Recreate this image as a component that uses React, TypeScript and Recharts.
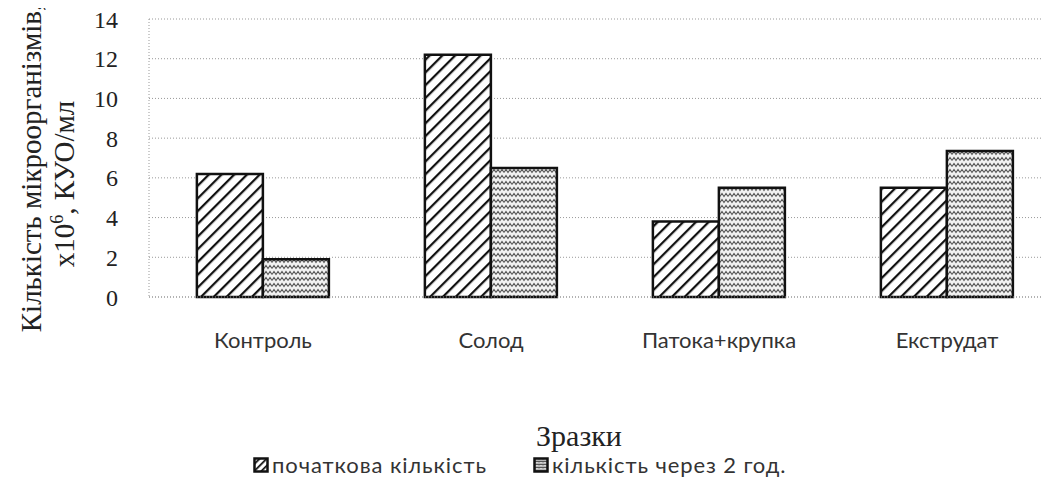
import { BarChart, Bar, XAxis, YAxis, CartesianGrid } from "recharts";

const categories = ["Контроль", "Солод", "Патока+крупка", "Екструдат"];
const initialCount = [6.2, 12.2, 3.8, 5.5];
const after2h = [1.9, 6.5, 5.5, 7.35];
const yTicks = [0, 2, 4, 6, 8, 10, 12, 14];
const seriesNames = ["початкова кількість", "кількість через 2 год."];

const data = categories.map((name, i) => ({
  name,
  initial: initialCount[i],
  after: after2h[i],
}));

const SERIF = "'Liberation Serif', 'DejaVu Serif', serif";
const SANS = "Lato, 'Open Sans', sans-serif";

function Patterns() {
  return (
    <defs>
      <pattern id="hatch" patternUnits="userSpaceOnUse" width={9} height={9} patternTransform="rotate(45)">
        <rect width={9} height={9} fill="#fff" />
        <line x1={0} y1={0} x2={0} y2={9} stroke="#111" strokeWidth={4.5} />
      </pattern>
      <pattern id="wave" patternUnits="userSpaceOnUse" width={8} height={6}>
        <rect width={8} height={6} fill="#f2f2f2" />
        <path d="M0 4.5 L2 1.5 L4 4.5 L6 1.5 L8 4.5" fill="none" stroke="#555" strokeWidth={1.1} />
      </pattern>
    </defs>
  );
}

function YTitle() {
  return (
    <g fontFamily={SERIF} fontSize={29} fill="#222">
      <text transform="translate(41,168) rotate(-90)" textAnchor="middle">
        Кількість мікроорганізмів,
      </text>
      <text transform="translate(74,184) rotate(-90)" textAnchor="middle">
        х10<tspan fontSize={18} dy={-11}>6</tspan>
        <tspan dy={11}>, КУО/мл</tspan>
      </text>
    </g>
  );
}

function LegendBox() {
  return (
    <div style={{ position: "absolute", left: 253, top: 451, display: "flex", gap: 46, fontFamily: SANS, fontSize: 22, letterSpacing: 0.9, color: "#333" }}>
      {seriesNames.map((n, i) => (
        <div key={n} style={{ display: "flex", alignItems: "center", gap: 3 }}>
          <svg width={16} height={16}>
            <defs>
              <pattern id={"lh" + i} patternUnits="userSpaceOnUse" width={i === 0 ? 5 : 4} height={i === 0 ? 5 : 3} patternTransform={i === 0 ? "rotate(45)" : undefined}>
                <rect width={5} height={5} fill="#fff" />
                {i === 0 ? <line x1={0} y1={0} x2={0} y2={5} stroke="#111" strokeWidth={3.5} /> : <path d="M0 2.5 L1 0.5 L2 2.5 L3 0.5 L4 2.5" fill="none" stroke="#444" strokeWidth={0.9} />}
              </pattern>
            </defs>
            <rect x={1.5} y={1.5} width={13} height={13} fill={`url(#lh${i})`} stroke="#111" strokeWidth={2.5} />
          </svg>
          <span>{n}</span>
        </div>
      ))}
    </div>
  );
}

export default function App() {
  return (
    <div style={{ margin: -8, width: 1051, height: 488, background: "#fff", position: "relative", overflow: "hidden" }}>
      <BarChart width={1051} height={488} data={data} margin={{ top: 19, right: -10, left: 84, bottom: 150 }} barCategoryGap="21%" barGap={0}>
        <Patterns />
        <CartesianGrid vertical={false} stroke="#999" strokeDasharray="1 2" />
        <XAxis
          dataKey="name"
          axisLine={{ stroke: "#999", strokeDasharray: "1 2" }}
          tickLine={false}
          height={41}
          tick={{ fontFamily: SANS, fontSize: 22, fill: "#333" }}
          tickMargin={29}
          label={{ value: "Зразки", position: "insideBottom", offset: -108, dx: -26, fontFamily: SERIF, fontSize: 30, fill: "#222" }}
        />
        <YAxis
          domain={[0, 14]}
          ticks={yTicks}
          width={65}
          axisLine={{ stroke: "#999", strokeDasharray: "1 2" }}
          tickLine={false}
          tick={{ fontFamily: SERIF, fontSize: 24, fill: "#222" }}
          tickMargin={25}
        />
        <YTitle />
        <Bar dataKey="initial" name={seriesNames[0]} fill="url(#hatch)" stroke="#111" strokeWidth={2.5} isAnimationActive={false} />
        <Bar dataKey="after" name={seriesNames[1]} fill="url(#wave)" stroke="#111" strokeWidth={2.5} isAnimationActive={false} />
      </BarChart>
      <LegendBox />
    </div>
  );
}
